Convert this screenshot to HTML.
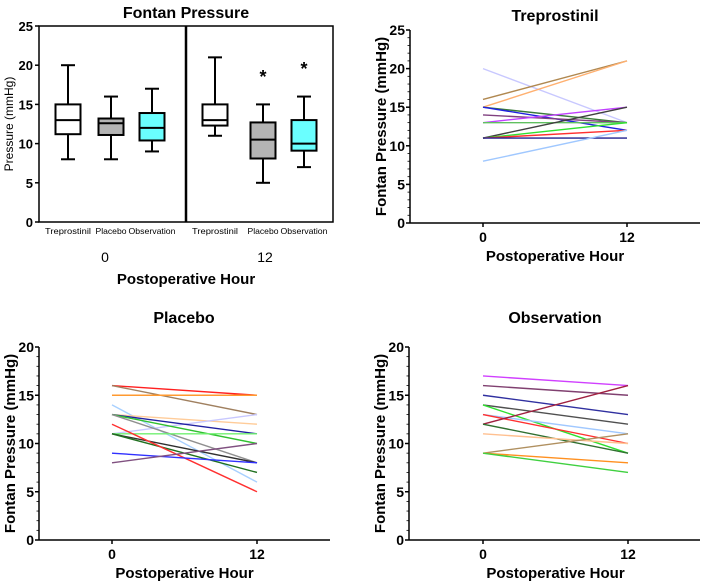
<!DOCTYPE html>
<html><head><meta charset="utf-8">
<style>
html,body{margin:0;padding:0;background:#fff;}
svg{display:block;font-family:"Liberation Sans",Arial,sans-serif;}
</style></head>
<body>
<svg id="fig" width="702" height="583" viewBox="0 0 702 583"></svg>
<script>
// ---- Box plot data ----
const boxCategories = ["Treprostinil","Placebo","Observation","Treprostinil","Placebo","Observation"];
const boxMin = [8, 8, 9, 11, 5, 7];
const boxQ1 = [11.2, 11.1, 10.4, 12.3, 8.1, 9.1];
const boxMedian = [13, 12.6, 12, 13, 10.5, 10];
const boxQ3 = [15, 13.2, 13.9, 15, 12.7, 13];
const boxMax = [20, 16, 17, 21, 15, 16];
const boxStars = [false, false, false, false, true, true];
const boxTicks = [0, 5, 10, 15, 20, 25];
const hourLabels = ["0", "12"];

// ---- Spaghetti data ----
const trepStart = [20, 16, 15, 15, 15, 14, 13, 13, 11, 11, 11, 11, 8];
const trepEnd   = [13, 21, 21, 13, 12, 13, 15, 13, 15, 13, 12, 11, 12];
const trepColors = ["#c8c8ff","#b08850","#ffb070","#3a7a3a","#2020e0","#804080","#c040ff","#60c060","#404040","#30e030","#ff3030","#202090","#a0c8ff"];
const placStart = [16, 16, 15, 14, 13, 11, 13, 13, 13, 11, 11, 11, 12, 9, 8];
const placEnd   = [15, 13, 15, 6, 12, 13, 11, 10, 8, 11, 8, 7, 5, 8, 10];
const placColors = ["#ff2020","#a08060","#ff9a30","#a8d0ff","#ffcc99","#c8c8ff","#2020a0","#30c030","#909090","#70f070","#303030","#207020","#ff3030","#3030ff","#805080"];
const obsStart = [17, 16, 15, 14, 14, 13, 13, 12, 12, 11, 9, 9, 9];
const obsEnd   = [16, 15, 13, 12, 9, 11, 10, 16, 9, 10, 11, 8, 7];
const obsColors = ["#d040ff","#804070","#3030a0","#505050","#30e030","#a0c8ff","#ff3030","#a02040","#307030","#ffc090","#b09060","#ff9020","#40d040"];
const lineTicks20 = [0, 5, 10, 15, 20];
const lineTicks25 = [0, 5, 10, 15, 20, 25];

const NS = "http://www.w3.org/2000/svg";
const svg = document.getElementById("fig");
function mk(tag, attrs, parent, text) {
  const e = document.createElementNS(NS, tag);
  for (const k in attrs) e.setAttribute(k, attrs[k]);
  if (text !== undefined) e.textContent = text;
  (parent || svg).appendChild(e);
  return e;
}

// ===== Panel 1: box plot =====
(function(){
  const g = mk("g", {});
  
  
  const x0 = 39, x1 = 333, yTop = 26, yBot = 222, vmax = 25;
  const y = v => yBot - (v / vmax) * (yBot - yTop);
  const centers = [68, 111, 152, 215, 263, 304];
  const xc = i => centers[i];
  const t = mk("text", {x:186, y:18, "text-anchor":"middle", "font-size":16, "font-weight":"bold"}, g, "Fontan Pressure");
  
  
  const frame = mk("rect", {x:x0, y:yTop, width:x1-x0, height:yBot-yTop, fill:"none", stroke:"#000", "stroke-width":1.5}, g);
  
  
  const div = mk("line", {x1:186, x2:186, y1:yTop, y2:yBot, stroke:"#000", "stroke-width":2.5}, g);
  
  
  boxTicks.forEach(v => {
    mk("line", {x1:x0-4, x2:x0, y1:y(v), y2:y(v), stroke:"#000", "stroke-width":1.5}, g);
    const tl = mk("text", {x:x0-6, y:y(v)+5, "text-anchor":"end", "font-size":13, "font-weight":"bold"}, g, String(v));
    
    
  });
  const yl = mk("text", {transform:"translate(13,124) rotate(-90)", "text-anchor":"middle", "font-size":12}, g, "Pressure (mmHg)");
  
  
  const fills = ["#ffffff","#b4b4b4","#6affff"];
  const labelW = [46, 31, 47, 46, 31, 47];
  boxCategories.forEach((c, i) => {
    const cx = xc(i), w = 25;
    const bg = mk("g", {}, g);
    
    
    mk("line", {x1:cx, x2:cx, y1:y(boxMax[i]), y2:y(boxQ3[i]), stroke:"#000", "stroke-width":2}, bg);
    mk("line", {x1:cx, x2:cx, y1:y(boxQ1[i]), y2:y(boxMin[i]), stroke:"#000", "stroke-width":2}, bg);
    mk("line", {x1:cx-7, x2:cx+7, y1:y(boxMax[i]), y2:y(boxMax[i]), stroke:"#000", "stroke-width":2}, bg);
    mk("line", {x1:cx-7, x2:cx+7, y1:y(boxMin[i]), y2:y(boxMin[i]), stroke:"#000", "stroke-width":2}, bg);
    mk("rect", {x:cx-w/2, y:y(boxQ3[i]), width:w, height:y(boxQ1[i])-y(boxQ3[i]), fill:fills[i%3], stroke:"#000", "stroke-width":2}, bg);
    mk("line", {x1:cx-w/2, x2:cx+w/2, y1:y(boxMedian[i]), y2:y(boxMedian[i]), stroke:"#000", "stroke-width":2}, bg);
    if (boxStars[i]) {
      const s = mk("text", {x:cx, y:y(boxMax[i]+4)+10, "text-anchor":"middle", "font-size":18, "font-weight":"bold"}, g, "*");
      
      
    }
    const cl = mk("text", {x:cx, y:234, "text-anchor":"middle", "font-size":8.5, textLength:labelW[i], lengthAdjust:"spacingAndGlyphs"}, g, c);
    
    
  });
  [[105, hourLabels[0]], [265, hourLabels[1]]].forEach(([x, s]) => {
    const h = mk("text", {x:x, y:262, "text-anchor":"middle", "font-size":14}, g, s);
    
    
  });
  const xt = mk("text", {x:186, y:284, "text-anchor":"middle", "font-size":15, "font-weight":"bold"}, g, "Postoperative Hour");
  
  
})();

// ===== Spaghetti panels =====
function spaghetti(name, title, ax, axEnd, yTop, yBot, vmax, ticks, xA, xB, titleX, titleY, starts, ends, colors) {
  const g = mk("g", {});
  
  
  const y = v => yBot - (v / vmax) * (yBot - yTop);
  const xs = [xA, xB];
  const t = mk("text", {x:titleX, y:titleY, "text-anchor":"middle", "font-size":16, "font-weight":"bold"}, g, title);
  
  
  mk("line", {x1:ax, x2:ax, y1:yTop, y2:yBot, stroke:"#000", "stroke-width":1.5}, g);
  mk("line", {x1:ax, x2:axEnd, y1:yBot, y2:yBot, stroke:"#000", "stroke-width":1.5}, g);
  for (let v = 0; v <= vmax; v++) {
    const major = ticks.includes(v);
    mk("line", {x1:ax-(major?4:2.5), x2:ax, y1:y(v), y2:y(v), stroke:"#000", "stroke-width":major?1.5:0.8}, g);
  }
  ticks.forEach(v => {
    const tl = mk("text", {x:ax-5, y:y(v)+5, "text-anchor":"end", "font-size":14, "font-weight":"bold"}, g, String(v));
    
    
  });
  xs.forEach((x, i) => {
    mk("line", {x1:x, x2:x, y1:yBot, y2:yBot+4, stroke:"#000", "stroke-width":1.5}, g);
    const tl = mk("text", {x:x, y:yBot+19, "text-anchor":"middle", "font-size":14, "font-weight":"bold"}, g, hourLabels[i]);
    
    
  });
  const xt = mk("text", {x:(xA+xB)/2, y:yBot+38, "text-anchor":"middle", "font-size":15, "font-weight":"bold"}, g, "Postoperative Hour");
  
  
  const yl = mk("text", {transform:`translate(${ax-24},${(yTop+yBot)/2}) rotate(-90)`, "text-anchor":"middle", "font-size":15, "font-weight":"bold"}, g, "Fontan Pressure (mmHg)");
  
  
  starts.forEach((s, i) => {
    const l = mk("line", {x1:xA, y1:y(s), x2:xB, y2:y(ends[i]), stroke:colors[i % colors.length], "stroke-width":1.4}, g);
    
    
  });
}
spaghetti("treprostinil-panel", "Treprostinil", 410, 700, 30, 223, 25, lineTicks25, 483, 627, 555, 21, trepStart, trepEnd, trepColors);
spaghetti("placebo-panel", "Placebo", 39, 330, 347, 540, 20, lineTicks20, 112, 257, 184, 323, placStart, placEnd, placColors);
spaghetti("observation-panel", "Observation", 409, 700, 347, 540, 20, lineTicks20, 483, 628, 555, 323, obsStart, obsEnd, obsColors);
</script>
</body></html>
